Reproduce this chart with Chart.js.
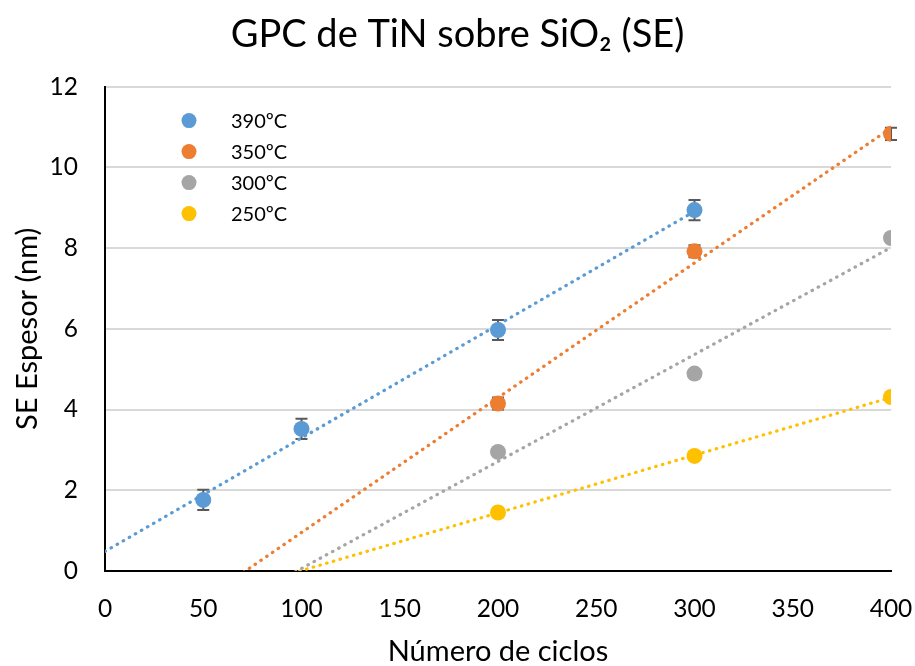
<!DOCTYPE html>
<html lang="es">
<head>
<meta charset="UTF-8">
<title>GPC de TiN sobre SiO2 (SE)</title>
<script src="https://cdn.jsdelivr.net/npm/chart.js"></script>
<style>
  html, body { margin: 0; padding: 0; background: #fff; }
  #wrap { width: 915px; height: 666px; }
</style>
</head>
<body>
<div id="wrap"><canvas id="chart" width="915" height="666"></canvas></div>
<script>
// series data
const labels = ['390ºC', '350ºC', '300ºC', '250ºC'];
const colors = ['#5B9BD5', '#ED7D31', '#A5A5A5', '#FFC000'];

const ciclos390 = [50, 100, 200, 300];
const espesor390 = [1.76, 3.52, 5.97, 8.94];
const error390 = [0.25, 0.25, 0.25, 0.25];

const ciclos350 = [200, 300, 400];
const espesor350 = [4.15, 7.92, 10.83];
const error350 = [0.15, 0.15, 0.15];

const ciclos300 = [200, 300, 400];
const espesor300 = [2.95, 4.89, 8.25];
const error300 = [0, 0, 0];

const ciclos250 = [200, 300, 400];
const espesor250 = [1.45, 2.85, 4.31];
const error250 = [0, 0, 0];

const xTicks = [0, 50, 100, 150, 200, 250, 300, 350, 400];
const yTicks = [0, 2, 4, 6, 8, 10, 12];

const series = [
  { x: ciclos390, y: espesor390, err: error390 },
  { x: ciclos350, y: espesor350, err: error350 },
  { x: ciclos300, y: espesor300, err: error300 },
  { x: ciclos250, y: espesor250, err: error250 }
];

const FONT = 'Lato, "Open Sans", sans-serif';

// least squares trendline, like Excel's linear trendline (forecast back to 0)
function trend(xs, ys) {
  const n = xs.length;
  const mx = xs.reduce((a, b) => a + b, 0) / n;
  const my = ys.reduce((a, b) => a + b, 0) / n;
  let sxy = 0, sxx = 0;
  for (let i = 0; i < n; i++) {
    sxy += (xs[i] - mx) * (ys[i] - my);
    sxx += (xs[i] - mx) * (xs[i] - mx);
  }
  const m = sxy / sxx, b = my - m * mx;
  const x1 = Math.max(...xs);
  return [{ x: 0, y: b }, { x: x1, y: m * x1 + b }];
}

const datasets = [];
series.forEach((s, i) => {
  datasets.push({
    type: 'scatter',
    label: labels[i],
    data: s.x.map((x, j) => ({ x: x, y: s.y[j] })),
    errors: s.err,
    backgroundColor: colors[i],
    borderColor: colors[i],
    pointRadius: 8,
    pointHoverRadius: 8,
    borderWidth: 0,
    order: 1
  });
});
series.forEach((s, i) => {
  datasets.push({
    type: 'line',
    label: 'trend ' + labels[i],
    data: trend(s.x, s.y),
    borderColor: colors[i],
    borderWidth: 3.2,
    borderDash: [0.5, 6.5],
    borderCapStyle: 'round',
    pointRadius: 0,
    fill: false,
    order: 2
  });
});

// error bars under the markers
const errorBars = {
  id: 'errorBars',
  beforeDatasetsDraw(chart) {
    const ctx = chart.ctx;
    const xs = chart.scales.x, ys = chart.scales.y;
    ctx.save();
    ctx.strokeStyle = '#595959';
    ctx.lineWidth = 2;
    chart.data.datasets.forEach(ds => {
      if (!ds.errors) return;
      ds.data.forEach((p, j) => {
        const e = ds.errors[j];
        if (!e) return;
        const px = xs.getPixelForValue(p.x);
        const top = ys.getPixelForValue(p.y + e);
        const bot = ys.getPixelForValue(p.y - e);
        ctx.beginPath();
        ctx.moveTo(px, top); ctx.lineTo(px, bot);
        ctx.moveTo(px - 6, top); ctx.lineTo(px + 6, top);
        ctx.moveTo(px - 6, bot); ctx.lineTo(px + 6, bot);
        ctx.stroke();
      });
    });
    ctx.restore();
  }
};

// legend inside the plot area, top left
const innerLegend = {
  id: 'innerLegend',
  afterDraw(chart) {
    const ctx = chart.ctx;
    const a = chart.chartArea;
    ctx.save();
    ctx.font = '20px ' + FONT;
    ctx.textBaseline = 'middle';
    ctx.textAlign = 'left';
    labels.forEach((lab, i) => {
      const y = a.top + 34 + i * 31;
      ctx.fillStyle = colors[i];
      ctx.beginPath();
      ctx.arc(a.left + 84, y, 7.5, 0, Math.PI * 2);
      ctx.fill();
      ctx.fillStyle = '#000';
      ctx.fillText(lab, a.left + 126, y + 1);
    });
    ctx.restore();
  }
};

new Chart(document.getElementById('chart'), {
  data: { datasets: datasets },
  options: {
    responsive: false,
    animation: false,
    layout: { padding: 0 },
    plugins: {
      legend: { display: false },
      tooltip: { enabled: false },
      title: {
        display: true,
        text: 'GPC de TiN sobre SiO₂ (SE)',
        color: '#000',
        font: { family: FONT, size: 38, weight: 'normal', lineHeight: 1.2 },
        padding: { top: 12, bottom: 29 }
      }
    },
    scales: {
      x: {
        type: 'linear',
        min: 0,
        max: 400,
        afterBuildTicks: axis => { axis.ticks = xTicks.map(v => ({ value: v })); },
        afterFit: axis => {
          axis.height = 95;
          axis.paddingLeft = 0;
          axis.paddingRight = 24;
        },
        grid: { display: false, drawTicks: false },
        border: { display: true, color: '#000', width: 2 },
        ticks: { color: '#000', padding: 23, font: { family: FONT, size: 24.5 } },
        title: {
          display: true,
          text: 'Número de ciclos',
          color: '#000',
          font: { family: FONT, size: 29, lineHeight: 1.0 },
          padding: { top: 0, bottom: 0 }
        }
      },
      y: {
        type: 'linear',
        min: 0,
        max: 12,
        afterBuildTicks: axis => { axis.ticks = yTicks.map(v => ({ value: v })); },
        afterFit: axis => { axis.width = 105; },
        grid: { color: '#d9d9d9', lineWidth: 2, drawTicks: false },
        border: { display: true, color: '#000', width: 2 },
        ticks: { color: '#000', padding: 27, font: { family: FONT, size: 24.5 } },
        title: {
          display: true,
          text: 'SE Espesor (nm)',
          color: '#000',
          font: { family: FONT, size: 29, lineHeight: 1.0 },
          padding: { top: 13, bottom: 0 }
        }
      }
    }
  },
  plugins: [errorBars, innerLegend]
});
</script>
</body>
</html>
